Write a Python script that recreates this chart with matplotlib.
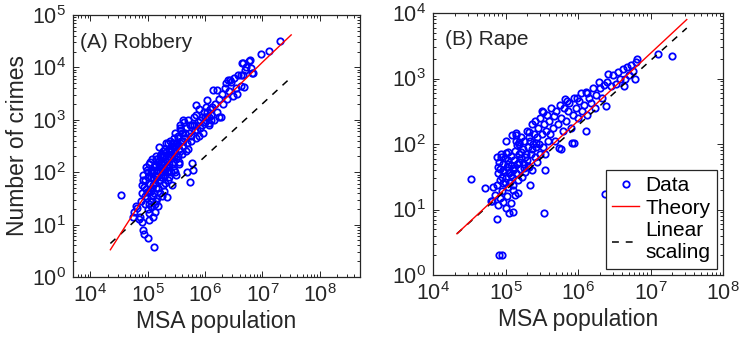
import numpy as np
import matplotlib
matplotlib.use("Agg")
import matplotlib.pyplot as plt
from matplotlib.ticker import LogLocator, NullFormatter

plt.rcParams['font.family'] = ['Liberation Sans', 'DejaVu Sans']
plt.rcParams['mathtext.fontset'] = 'custom'
plt.rcParams['mathtext.rm'] = 'Liberation Sans'
plt.rcParams['mathtext.it'] = 'Liberation Sans'
plt.rcParams['mathtext.default'] = 'regular'

# ---------------- Data (log10 values) ----------------
# Panel A: Robbery
robbery_logpop = [
    4.54, 4.74, 4.77, 4.80, 4.82, 4.85, 4.87, 4.90, 4.92, 4.94, 5.01, 5.11, 5.03, 5.10, 5.12,
    4.88, 4.90, 4.90, 4.91, 4.92, 4.95, 4.96, 4.97, 4.98, 5.00, 5.00, 5.02, 5.03, 5.04, 5.05,
    5.06, 5.07, 5.08, 5.09, 5.10, 5.11, 5.12, 5.13, 5.14, 5.15, 5.16, 5.17, 5.18, 5.19, 5.20,
    5.21, 5.22, 5.23, 5.24, 5.25, 5.26, 5.27, 5.28, 5.29, 5.30, 5.31, 5.32, 5.33, 5.34, 5.35,
    5.36, 5.37, 5.38, 5.39, 5.40, 5.41, 5.42, 5.43, 5.44, 5.45, 5.46, 5.47, 5.48, 5.49, 5.50,
    5.51, 5.52, 5.53, 5.54, 5.55, 5.56, 5.57, 5.58, 5.59, 5.60, 5.62, 5.63, 5.64, 5.66, 5.67,
    5.68, 5.69, 5.70, 5.72, 5.74, 5.75, 5.77, 5.78, 5.79, 5.80, 5.82, 5.84, 5.85, 5.87, 5.89,
    5.90, 5.92, 5.94, 5.96, 5.98, 6.00, 6.02, 6.04, 6.06, 6.08, 6.10, 6.12, 6.15, 6.18, 6.20,
    6.21, 6.25, 6.27, 6.30, 6.32, 6.35, 6.38, 6.40, 6.42, 6.46, 6.48, 6.50, 6.53, 6.56, 6.58,
    6.62, 6.66, 6.66, 6.67, 6.70, 6.72, 6.76, 6.79, 6.80, 6.84, 6.98, 7.12, 7.30,
    4.96, 4.97, 4.99, 5.01, 5.02, 5.04, 5.05, 5.06, 5.08, 5.09, 5.11, 5.12, 5.13, 5.15, 5.16,
    5.18, 5.19, 5.21, 5.22, 5.24, 5.25, 5.27, 5.28, 5.30, 5.31, 5.33, 5.34, 5.36, 5.38, 5.40,
    5.42, 5.44, 5.46, 5.48, 5.50, 5.52, 5.54, 5.56, 5.58, 5.61, 5.65, 5.70, 5.73, 5.76, 5.81,
    5.86, 5.91, 5.95, 5.99, 6.03, 6.07, 6.11, 5.02, 5.06, 5.14, 5.18,
    5.85, 6.04, 6.13, 6.25, 6.37, 6.44, 6.63, 6.65, 6.82, 5.62, 6.07,
    4.93, 5.07, 5.13, 5.17, 5.23, 5.29, 5.35, 5.41, 5.47, 5.53, 4.98, 5.20, 5.26, 5.32, 5.38,
]
robbery_logcount = [
    1.57, 1.15, 1.25, 1.35, 1.32, 1.10, 1.15, 1.05, 0.90, 0.82, 0.74, 0.57, 1.09, 1.15, 1.25,
    1.45, 1.60, 1.75, 1.95, 1.85, 1.55, 1.40, 1.68, 2.05, 1.90, 1.30, 1.62, 2.15, 1.78, 1.45,
    2.00, 1.70, 2.25, 1.55, 1.88, 2.10, 1.40, 1.95, 2.30, 1.70, 2.05, 1.50, 2.20, 1.85, 2.48,
    2.00, 1.60, 2.35, 1.90, 2.15, 1.75, 2.40, 2.05, 1.65, 2.25, 1.95, 2.55, 2.10, 1.53, 2.30,
    1.85, 2.45, 2.15, 2.60, 2.00, 2.35, 1.75, 2.50, 2.20, 2.65, 2.05, 2.40, 2.75, 2.25, 1.95,
    2.55, 2.30, 2.70, 2.45, 2.15, 2.85, 2.90, 2.60, 2.35, 2.75, 2.50, 2.95, 2.65, 2.40, 2.85,
    2.00, 2.55, 3.00, 2.75, 1.81, 2.60, 2.17, 2.90, 2.04, 3.05, 2.80, 2.65, 3.10, 2.95, 2.70,
    3.20, 2.85, 3.05, 2.75, 3.15, 2.95, 3.25, 3.05, 2.90, 3.20, 3.10, 3.25, 3.00, 3.30, 3.15,
    3.57, 3.40, 3.06, 3.50, 3.30, 3.60, 3.40, 3.76, 3.55, 3.72, 3.45, 3.80, 3.60, 3.50, 3.85,
    3.65, 3.86, 4.08, 3.62, 3.95, 4.00, 4.12, 4.14, 3.98, 3.90, 4.25, 4.32, 4.50,
    1.85, 2.10, 1.50, 2.00, 1.40, 2.20, 1.65, 1.90, 2.05, 1.75, 1.60, 2.15, 1.80, 2.25, 1.90,
    1.70, 2.10, 2.30, 1.85, 2.20, 1.55, 2.00, 2.30, 1.80, 2.45, 2.00, 2.20, 2.55, 1.90, 2.40,
    2.15, 2.55, 2.30, 2.00, 2.50, 2.65, 2.20, 2.40, 2.80, 2.60, 2.75, 2.45, 2.90, 2.70, 2.90,
    2.80, 3.00, 2.90, 3.05, 3.15, 3.05, 3.00, 1.22, 1.35, 1.45, 1.35,
    3.28, 3.38, 3.57, 3.05, 3.70, 3.76, 3.85, 4.08, 3.89, 3.00, 2.94,
    1.72, 1.98, 2.12, 1.92, 2.08, 2.18, 2.02, 2.28, 2.48, 2.52, 1.62, 2.22, 2.32, 2.38, 2.42,
]

# Panel B: Rape
rape_logpop = [
    4.53, 4.72, 4.80, 4.88, 4.91, 4.95, 5.53, 6.37, 7.11, 7.30,
    4.85, 4.88, 4.90, 4.92, 4.95, 4.97, 5.00, 5.02, 5.05, 5.08, 5.10, 5.13,
    4.88, 4.89, 4.90, 4.91, 4.92, 4.93, 4.94, 4.95, 4.96, 4.97, 4.98, 4.99, 5.00, 5.01, 5.02,
    5.03, 5.04, 5.05, 5.06, 5.07, 5.08, 5.09, 5.10, 5.11, 5.12, 5.13, 5.14, 5.15, 5.16, 5.17,
    5.18, 5.19, 5.20, 5.21, 5.22, 5.23, 5.24, 5.25, 5.26, 5.27, 5.28, 5.29, 5.30, 5.31, 5.32,
    5.33, 5.34, 5.35, 5.36, 5.37, 5.38, 5.39, 5.40, 5.41, 5.42, 5.43, 5.44, 5.45, 5.46, 5.47,
    5.48, 5.50, 5.50, 5.52, 5.53, 5.55, 5.56, 5.57, 5.58, 5.60, 5.62, 5.63, 5.65, 5.67, 5.68,
    5.70, 5.72, 5.74, 5.75, 5.77, 5.79, 5.80, 5.82, 5.84, 5.86, 5.88, 5.90, 5.92, 5.93, 5.95,
    5.97, 6.00, 6.02, 6.04, 6.06, 6.08, 6.11, 6.13, 6.15, 6.18, 6.20, 6.23, 6.25, 6.29, 6.31,
    6.33, 6.36, 6.39, 6.40, 6.42, 6.45, 6.48, 6.52, 6.55, 6.58, 6.62, 6.64, 6.65, 6.68, 6.70,
    6.73, 6.76, 6.78, 6.80, 6.82,
    5.17, 5.34, 5.55, 5.77, 5.95, 6.11, 5.52, 5.15, 5.19, 5.04, 4.94, 5.85, 5.99, 6.13, 4.83,
    4.81, 5.10, 5.09, 5.14, 5.00,
    4.96, 5.03, 5.07, 5.12, 5.18, 5.22, 5.27, 5.31, 5.36, 5.42, 4.99, 5.06, 5.16, 5.25, 5.33,
]
rape_logcount = [
    1.47, 1.33, 1.13, 0.86, 0.31, 0.30, 0.95, 1.23, 3.38, 3.34,
    1.22, 1.38, 1.07, 1.18, 1.28, 1.12, 1.02, 1.20, 0.95, 1.10, 1.30, 1.22,
    1.80, 1.65, 1.55, 1.72, 1.45, 1.62, 1.85, 1.50, 1.70, 1.40, 1.58, 1.78, 1.86, 1.48, 1.65,
    1.35, 1.75, 1.55, 1.42, 1.68, 1.82, 1.50, 1.60, 1.38, 1.75, 1.90, 2.14, 1.55, 1.70, 1.45,
    1.85, 2.00, 1.62, 1.78, 2.10, 1.50, 1.92, 1.70, 2.05, 1.58, 1.85, 2.20, 1.75, 1.95, 2.19,
    1.65, 2.05, 1.85, 2.30, 1.60, 2.00, 2.15, 1.80, 2.35, 1.95, 2.10, 1.72, 2.25, 2.00, 2.40,
    1.85, 2.51, 2.15, 1.95, 2.30, 1.84, 2.20, 2.45, 2.05, 2.35, 2.15, 2.55, 2.25, 2.42, 2.05,
    2.50, 2.30, 1.94, 2.60, 2.40, 2.20, 2.55, 2.68, 2.35, 2.50, 2.62, 2.25, 2.02, 2.45, 2.70,
    2.55, 2.40, 2.65, 2.78, 2.50, 2.60, 2.80, 2.45, 2.70, 2.62, 2.85, 2.55, 2.75, 2.94, 2.85,
    2.70, 2.90, 2.58, 2.95, 3.07, 2.88, 3.05, 2.92, 3.10, 3.00, 3.15, 2.89, 3.00, 3.18, 3.05,
    3.20, 3.12, 3.00, 3.25, 3.30,
    1.25, 1.37, 1.60, 1.92, 2.02, 2.20, 2.49, 2.17, 2.03, 1.88, 1.80, 2.66, 2.70, 2.78, 1.34,
    1.13, 0.96, 2.13, 2.04, 2.05,
    1.60, 1.70, 1.52, 1.64, 1.72, 1.88, 1.80, 1.66, 1.92, 2.02, 1.42, 1.58, 1.98, 1.63, 2.10,
]

# Theory curves and linear scaling (log10 points)
robbery_theory_logpop = [4.35, 4.6, 4.9, 5.2, 5.5, 5.8, 6.1, 6.5, 7.0, 7.5]
robbery_theory_logcount = [0.52, 0.95, 1.46, 1.95, 2.38, 2.77, 3.13, 3.56, 4.10, 4.62]
robbery_linear_logpop = [4.35, 7.45]
robbery_linear_logcount = [0.64, 3.76]

rape_theory_logpop = [4.33, 7.50]
rape_theory_logcount = [0.63, 3.90]
rape_linear_logpop = [4.33, 7.50]
rape_linear_logcount = [0.63, 3.77]

panel_titles = ["(A) Robbery", "(B) Rape"]
legend_labels = ['Data', 'Theory', 'Linear\nscaling']

# ---------------- Figure ----------------
W, H = 748, 351
fig = plt.figure(figsize=(W / 100, H / 100), dpi=100)

axA = fig.add_axes([73 / W, 1 - 277 / H, (360 - 73) / W, (277 - 15) / H])
axB = fig.add_axes([433 / W, 1 - 275 / H, (723 - 433) / W, (275 - 13) / H])

dark = '#262626'


def pw(a):
    return np.power(10.0, np.asarray(a, dtype=float))


def style(ax, xlim, ylim):
    ax.set_xscale('log')
    ax.set_yscale('log')
    ax.set_xlim(*xlim)
    ax.set_ylim(*ylim)
    ax.xaxis.set_major_locator(LogLocator(base=10, numticks=20))
    ax.yaxis.set_major_locator(LogLocator(base=10, numticks=20))
    ax.xaxis.set_minor_locator(LogLocator(base=10, subs=np.arange(2, 10), numticks=20))
    ax.yaxis.set_minor_locator(LogLocator(base=10, subs=np.arange(2, 10), numticks=20))
    ax.xaxis.set_minor_formatter(NullFormatter())
    ax.yaxis.set_minor_formatter(NullFormatter())
    ax.tick_params(which='both', direction='in', top=True, right=True,
                   colors=dark, labelsize=15.5, width=0.7)
    ax.tick_params(which='major', length=4, pad=5)
    ax.tick_params(which='minor', length=2)
    for s in ax.spines.values():
        s.set_color(dark)
        s.set_linewidth(0.9)
    ax.set_xlabel('MSA population', fontsize=16.5, color=dark, labelpad=2)


mk = dict(linestyle='none', marker='o', markersize=4.6, markerfacecolor='none',
          markeredgecolor='#0000ff', markeredgewidth=1.3)

# Panel A
style(axA, (5e3, 5e8), (1, 1e5))
axA.plot(pw(robbery_logpop), pw(robbery_logcount), **mk, zorder=2)
axA.plot(pw(robbery_linear_logpop), pw(robbery_linear_logcount), color='k',
         lw=1.1, linestyle=(0, (4.5, 4.5)), zorder=3)
axA.plot(pw(robbery_theory_logpop), pw(robbery_theory_logcount), color='#ff0000',
         lw=1.0, zorder=4)
axA.set_ylabel('Number of crimes', fontsize=16.5, color=dark, labelpad=2)
axA.text(0.025, 0.93, panel_titles[0], transform=axA.transAxes, fontsize=15,
         va='top', ha='left', color=dark)

# Panel B
style(axB, (1e4, 1e8), (1, 1e4))
hD, = axB.plot(pw(rape_logpop), pw(rape_logcount), **mk, zorder=2)
hL, = axB.plot(pw(rape_linear_logpop), pw(rape_linear_logcount), color='k',
               lw=1.1, linestyle=(0, (4.5, 4.5)), zorder=3)
hT, = axB.plot(pw(rape_theory_logpop), pw(rape_theory_logcount), color='#ff0000',
               lw=1.0, zorder=4)
axB.text(0.04, 0.935, panel_titles[1], transform=axB.transAxes, fontsize=15,
         va='top', ha='left', color=dark)

leg = axB.legend([hD, hT, hL], legend_labels,
                 loc='lower right', bbox_to_anchor=(1.0, 0.0),
                 fontsize=15, frameon=True, fancybox=False, framealpha=1,
                 edgecolor=dark, handlelength=1.3, handletextpad=0.3,
                 borderpad=0.3, labelspacing=0.18, borderaxespad=0.3,
                 markerscale=1.0)
leg.get_frame().set_linewidth(0.9)
for t in leg.get_texts():
    t.set_color('k')

fig.savefig('out.png', dpi=100)
